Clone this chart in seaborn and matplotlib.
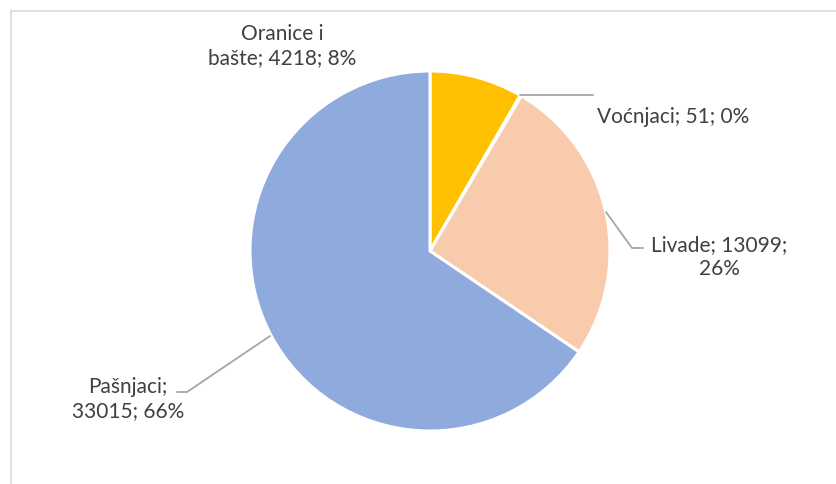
import seaborn as sns
import matplotlib.pyplot as plt
from matplotlib.lines import Line2D

# Data
categories = ["Oranice i bašte", "Voćnjaci", "Livade", "Pašnjaci"]
values = [4218, 51, 13099, 33015]
percent_labels = ["8%", "0%", "26%", "66%"]
colors = ["#FFC000", "#A5A5A5", "#F8CBAD", "#8FAADC"]

sns.set_theme(style="white")
plt.rcParams['font.family'] = ['Lato', 'DejaVu Sans']

W, H = 836, 484
fig = plt.figure(figsize=(W / 100, H / 100), dpi=100)
fig.patch.set_facecolor("white")

# pie centre (430, 251) px, radius 180 px
cx, cy, r = 430, 251, 180
ax = fig.add_axes([(cx - r) / W, (H - cy - r) / H, 2 * r / W, 2 * r / H])

ax.pie(values, colors=sns.color_palette(colors), startangle=90, counterclock=False,
       radius=1, wedgeprops=dict(edgecolor="white", linewidth=2.2))
ax.set_xlim(-1, 1)
ax.set_ylim(-1, 1)
ax.set_aspect("equal")
ax.axis("off")


def px(x, y):
    return ((x - cx) / r, (cy - y) / r)


txt_color = "#404040"
line_color = "#A6A6A6"
fs = 15
ls = 1.3

# labels
lab = [f"{c}; {v}; {p}" for c, v, p in zip(categories, values, percent_labels)]
ax.text(*px(282, 46), "Oranice i\nbašte; 4218; 8%", ha="center", va="center",
        fontsize=fs, color=txt_color, clip_on=False, linespacing=ls)
ax.text(*px(597, 117), lab[1], ha="left", va="center",
        fontsize=fs, color=txt_color, clip_on=False)
ax.text(*px(719, 257), "Livade; 13099;\n26%", ha="center", va="center",
        fontsize=fs, color=txt_color, clip_on=False, linespacing=ls)
ax.text(*px(128, 399), "Pašnjaci;\n33015; 66%", ha="center", va="center",
        fontsize=fs, color=txt_color, clip_on=False, linespacing=ls)

# leader lines
for pts in [[(520, 95), (593, 95)],
            [(606, 212), (632, 248), (643, 248)],
            [(270, 336), (187, 392), (177, 392)]]:
    xs, ys = zip(*[px(*p) for p in pts])
    ax.plot(xs, ys, color=line_color, lw=1.3, clip_on=False)

# chart frame (partially outside the image)
fig.add_artist(Line2D([10.5 / W, 10.5 / W], [0, 1 - 11 / H], color="#D9D9D9", lw=1.2))
fig.add_artist(Line2D([10.5 / W, 1], [1 - 11 / H, 1 - 11 / H], color="#D9D9D9", lw=1.2))

fig.savefig("out.png", dpi=100, facecolor="white")
